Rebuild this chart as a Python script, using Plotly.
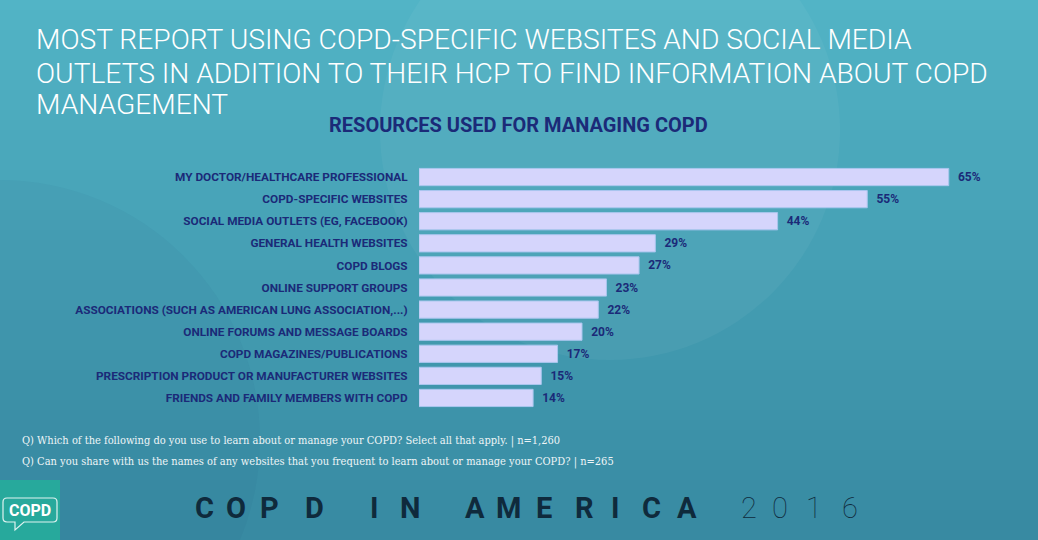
import plotly.graph_objects as go

categories = [
    "MY DOCTOR/HEALTHCARE PROFESSIONAL",
    "COPD-SPECIFIC WEBSITES",
    "SOCIAL MEDIA OUTLETS (EG, FACEBOOK)",
    "GENERAL HEALTH WEBSITES",
    "COPD BLOGS",
    "ONLINE SUPPORT GROUPS",
    "ASSOCIATIONS (SUCH AS AMERICAN LUNG ASSOCIATION,...)",
    "ONLINE FORUMS AND MESSAGE BOARDS",
    "COPD MAGAZINES/PUBLICATIONS",
    "PRESCRIPTION PRODUCT OR MANUFACTURER WEBSITES",
    "FRIENDS AND FAMILY MEMBERS WITH COPD",
]
values = [65, 55, 44, 29, 27, 23, 22, 20, 17, 15, 14]
value_labels = [f"\u2002{v}%" for v in values]

title_lines = [
    "MOST REPORT USING COPD-SPECIFIC WEBSITES AND SOCIAL MEDIA",
    "OUTLETS IN ADDITION TO THEIR HCP TO FIND INFORMATION ABOUT COPD",
    "MANAGEMENT",
]
subtitle = "RESOURCES USED FOR MANAGING COPD"
footnotes = [
    "Q) Which of the following do you use to learn about or manage your COPD? Select all that apply. | n=1,260",
    "Q) Can you share with us the names of any websites that you frequent to learn about or manage your COPD? | n=265",
]
brand_chars = list("COPDINAMERICA")
brand_year = list("2016")

W, H = 1038, 540
L, R, T, B = 419, 49, 166, 131
PW, PH = W - L - R, H - T - B

def fx(X):
    return (X - L) / PW

def fy(Y):
    return (H - B - Y) / PH

NAVY = "#1b2a78"
BAR = "#d5d5fc"

fig = go.Figure()
fig.add_trace(go.Bar(
    y=categories, x=values, orientation="h",
    text=value_labels, textposition="outside", cliponaxis=False,
    textfont=dict(family="Roboto", size=12, color=NAVY, weight=700),
    marker=dict(color=BAR, line=dict(color="#a9c6ee", width=1)),
    width=0.78, hoverinfo="skip",
))

shapes = []
# background gradient
top = (82, 180, 198)
bot = (56, 138, 162)
n = 54
for i in range(n):
    t = i / (n - 1)
    c = tuple(int(top[k] + (bot[k] - top[k]) * t) for k in range(3))
    y0 = i * H / n
    y1 = (i + 1) * H / n + 1
    shapes.append(dict(type="rect", xref="paper", yref="paper",
                       x0=fx(-5), x1=fx(W + 5), y0=fy(y1), y1=fy(y0),
                       fillcolor=f"rgb{c}", line=dict(width=0), layer="below"))
# faint decorative shapes
shapes.append(dict(type="circle", xref="paper", yref="paper",
                   x0=fx(380), x1=fx(840), y0=fy(360), y1=fy(-100),
                   fillcolor="rgba(255,255,255,0.045)", line=dict(width=0), layer="below"))
shapes.append(dict(type="circle", xref="paper", yref="paper",
                   x0=fx(-260), x1=fx(260), y0=fy(700), y1=fy(180),
                   fillcolor="rgba(20,60,90,0.04)", line=dict(width=0), layer="below"))
# logo box
shapes.append(dict(type="rect", xref="paper", yref="paper",
                   x0=fx(0), x1=fx(60), y0=fy(541), y1=fy(480),
                   fillcolor="#27a99c", line=dict(width=0), layer="below"))
bx0, bx1, by0, by1 = 3, 57, 498, 522
path = (f"M {fx(bx0+4)},{fy(by0)} L {fx(bx1-4)},{fy(by0)} Q {fx(bx1)},{fy(by0)} {fx(bx1)},{fy(by0+4)} "
        f"L {fx(bx1)},{fy(by1-4)} Q {fx(bx1)},{fy(by1)} {fx(bx1-4)},{fy(by1)} "
        f"L {fx(24)},{fy(by1)} L {fx(15)},{fy(530)} L {fx(15)},{fy(by1)} "
        f"L {fx(bx0+4)},{fy(by1)} Q {fx(bx0)},{fy(by1)} {fx(bx0)},{fy(by1-4)} "
        f"L {fx(bx0)},{fy(by0+4)} Q {fx(bx0)},{fy(by0)} {fx(bx0+4)},{fy(by0)} Z")
shapes.append(dict(type="path", xref="paper", yref="paper", path=path,
                   line=dict(color="rgba(255,255,255,0.85)", width=1.2)))

ann = []
title_y = [40, 73, 105]
for line, yy in zip(title_lines, title_y):
    ann.append(dict(text=line, xref="paper", yref="paper",
                    x=fx(34), y=fy(yy), xanchor="left", yanchor="middle", showarrow=False, align="left",
                    font=dict(family="Roboto", size=28.2, color="#ffffff", weight=300)))
ann.append(dict(text=subtitle, xref="paper", yref="paper",
                x=fx(518), y=fy(125), xanchor="center", yanchor="middle", showarrow=False,
                font=dict(family="Roboto", size=20, color=NAVY, weight=700)))
for i, ftxt in enumerate(footnotes):
    ann.append(dict(text=ftxt, xref="paper", yref="paper",
                    x=fx(20), y=fy(441 + 21 * i), xanchor="left", yanchor="middle", showarrow=False,
                    font=dict(family="DejaVu Serif Condensed", size=11, color="#eef5f7")))
brand_x = [204, 236, 269, 314, 374, 410, 475, 508, 544, 584, 615, 651, 687]
for ch, xx in zip(brand_chars, brand_x):
    ann.append(dict(text=ch, xref="paper", yref="paper", x=fx(xx), y=fy(508),
                    xanchor="center", yanchor="middle", showarrow=False,
                    font=dict(family="Roboto", size=29, color="#0f2a3c", weight=700)))
year_x = [749, 780, 814, 850]
for ch, xx in zip(brand_year, year_x):
    ann.append(dict(text=ch, xref="paper", yref="paper", x=fx(xx), y=fy(508),
                    xanchor="center", yanchor="middle", showarrow=False,
                    font=dict(family="Roboto", size=29, color="#0f2a3c", weight=100)))
ann.append(dict(text="COPD", xref="paper", yref="paper", x=fx(30), y=fy(510),
                xanchor="center", yanchor="middle", showarrow=False,
                font=dict(family="Roboto", size=16, color="#ffffff", weight=700)))

fig.update_layout(
    width=W, height=H,
    margin=dict(l=L, r=R, t=T, b=B, pad=0),
    paper_bgcolor="rgb(70,160,180)", plot_bgcolor="rgba(0,0,0,0)",
    showlegend=False, bargap=0.22,
    shapes=shapes, annotations=ann,
    xaxis=dict(range=[0, PW / 8.15], visible=False, fixedrange=True),
    yaxis=dict(autorange="reversed", showgrid=False, zeroline=False, showline=False,
               ticks="outside", ticklen=8, tickcolor="rgba(0,0,0,0)",
               tickfont=dict(family="Roboto", size=11.8, color=NAVY, weight=700),
               fixedrange=True),
)

fig.write_html("out.html")
